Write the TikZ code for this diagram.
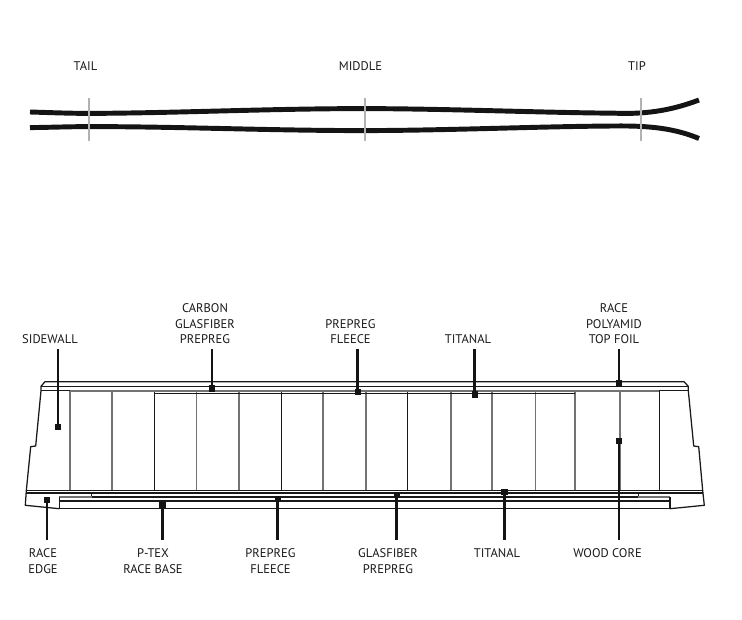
\documentclass[tikz,border=0pt]{standalone}
\usepackage{fontspec}
\setmainfont{PT Sans}
\tikzset{
  px/.style={x=0.75pt,y=-0.75pt},
  skiline/.style={draw=black!92,line width=3.7pt},
  tick/.style={draw=black!30,line width=1.5pt},
  thin/.style={draw=black!90,line width=0.95pt},
  greyline/.style={draw=black!55,line width=1.2pt},
  lead/.style={draw=black!92,line width=2pt},
  pin/.style={fill=black!92,inner sep=0pt,minimum size=4.8pt,rectangle},
  lab/.style={font=\fontsize{9.4}{11.6}\selectfont,align=center,text=black!90,inner sep=0pt}
}
\begin{document}
\begin{tikzpicture}[px]
\useasboundingbox (0,0) rectangle (742,620);
% ski side profile
\node[lab] (tail) at (85.5,66) {TAIL};
\node[lab] (middle) at (360.5,66) {MIDDLE};
\node[lab] (tip) at (637,66) {TIP};
\draw[skiline] (30,112) .. controls (50,112.6) and (70,113.4) .. (90,113.4) .. controls (180,113) and (270,108.6) .. (365,108.6) .. controls (450,108.8) and (540,112.6) .. (615,113.2) .. controls (650,114.6) and (675,109) .. (699,100);
\draw[skiline] (30,127.6) .. controls (50,127.4) and (70,126.6) .. (90,126.6) .. controls (180,126.6) and (270,130.6) .. (365,130.6) .. controls (450,130.4) and (540,126.4) .. (615,126) .. controls (650,125.6) and (675,128.5) .. (699,138.5);
\draw[tick] (89,98) -- (89,141);
\draw[tick] (365,98) -- (365,141);
\draw[tick] (640.5,98) -- (640.5,141);
% cross-section: core cells
\foreach \x in {70,112,196.5,239,323,366,450.7,491.7,535.3,575,619.7}
  \draw[greyline] (\x,391) -- (\x,490.7);
\foreach \x in {154.5,281.3,407.3,659.3}
  \draw[thin] (\x,391) -- (\x,490.7);
\draw[greyline,line width=1.4pt] (70,390.7) -- (659.3,390.7);
\draw[thin] (154.5,393.4) -- (574.5,393.4);
\draw[thin] (41,386.3) -- (688.3,386.3);
% outer contour
\draw[thin,line join=round] (59.3,508.7) -- (25.3,505.3) -- (26.3,490.7) -- (30.7,446.7) -- (35.7,446) -- (41,390.7) -- (41,386.3) -- (45,381.7) -- (684,381.7) -- (688.3,386.3) -- (688.3,390.7) -- (693.7,446) -- (698.7,446.7) -- (702.7,490.7) -- (704.3,505.3) -- (670,508.7);
\draw[thin] (41,390.7) -- (70,390.7);
\draw[thin] (659.3,390.7) -- (688.3,390.7);
% base package
\draw[thin,line width=1.1pt] (26.3,490.7) -- (702.7,490.7);
\draw[thin,line width=1.1pt] (26.3,493.2) -- (702.7,493.2);
\draw[thin,line width=1.1pt] (91.7,493.2) -- (91.7,497) -- (638.3,497) -- (638.3,493.2);
\draw[greyline] (59.3,497) -- (91.7,497);
\draw[greyline] (638.3,497) -- (670,497);
\draw[thin] (59.3,497) -- (59.3,508.5);
\draw[thin] (670,497) -- (670,508.5);
\draw[thin] (59.3,501) -- (670,501);
\draw[thin] (59.3,508.4) -- (670,508.4);
% labels above
\node[lab] (sidewall) at (50,339) {SIDEWALL};
\node[lab,anchor=south] (carbon) at (205,344) {CARBON\\GLASFIBER\\PREPREG};
\node[lab,anchor=south] (fleecetop) at (350.5,344) {PREPREG\\FLEECE};
\node[lab] (titanaltop) at (468,339) {TITANAL};
\node[lab,anchor=south] (polyamid) at (614,344) {RACE\\POLYAMID\\TOP FOIL};
% labels below
\node[lab,anchor=north] (edge) at (43,548.5) {RACE\\EDGE};
\node[lab,anchor=north] (ptex) at (153,548.5) {P-TEX\\RACE BASE};
\node[lab,anchor=north] (fleecebot) at (270.5,548.5) {PREPREG\\FLEECE};
\node[lab,anchor=north] (glas) at (388,548.5) {GLASFIBER\\PREPREG};
\node[lab] (titanalbot) at (497,553.5) {TITANAL};
\node[lab] (wood) at (607.5,553.5) {WOOD CORE};
% pins
\node[pin] (p1) at (58,427) {};
\node[pin] (p2) at (212,388.5) {};
\node[pin] (p3) at (357.7,392) {};
\node[pin] (p4) at (474.7,394.3) {};
\node[pin] (p5) at (619,383.5) {};
\node[pin] (p6) at (47,500) {};
\node[pin] (p7) at (162.3,505) {};
\node[pin] (p8) at (277.7,499) {};
\node[pin] (p9) at (396.7,495) {};
\node[pin] (p10) at (504.3,492) {};
\node[pin] (p11) at (619,441) {};
% free ends
\coordinate (t1) at (58,349);
\coordinate (t2) at (212,349);
\coordinate (t3) at (357.7,349);
\coordinate (t4) at (474.7,349);
\coordinate (t5) at (619,349);
\coordinate (b6) at (47,540);
\coordinate (b7) at (162.3,540);
\coordinate (b8) at (277.7,540);
\coordinate (b9) at (396.7,540);
\coordinate (b10) at (504.3,540);
\coordinate (b11) at (619,540);
\foreach \a/\b in {t1/p1,t2/p2,t3/p3,t4/p4,t5/p5,b6/p6,b7/p7,b8/p8,b9/p9,b10/p10,b11/p11}
  \draw[lead] (\a) -- (\b.center);
\end{tikzpicture}
\end{document}
